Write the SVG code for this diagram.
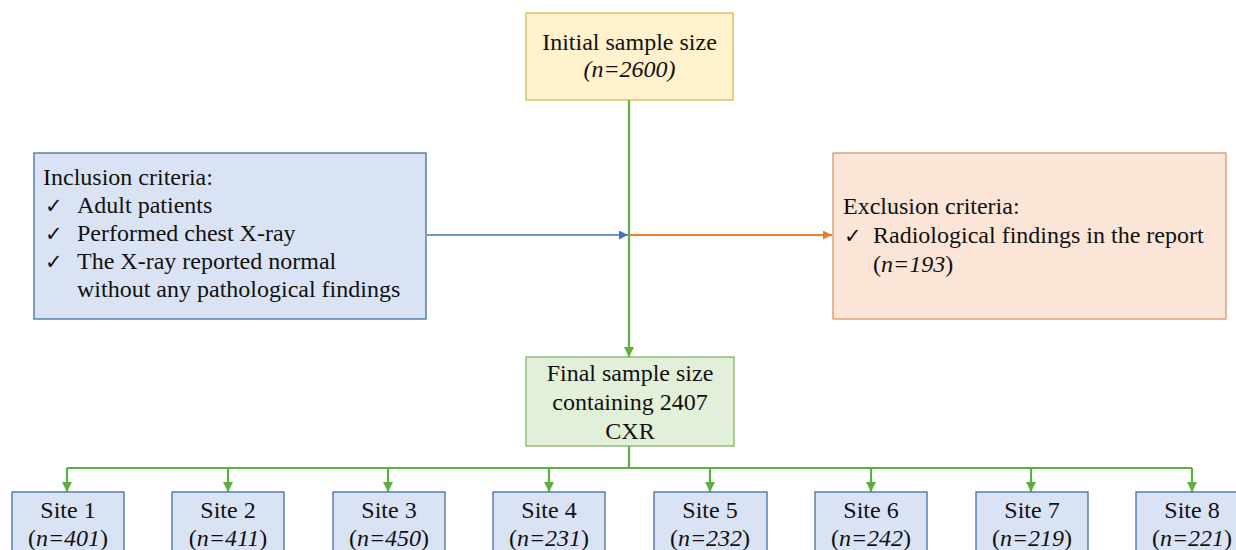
<svg xmlns="http://www.w3.org/2000/svg" width="1236" height="550" viewBox="0 0 1236 550">
<defs>
<style>
text{font-family:"Liberation Serif","Times New Roman",serif;font-size:24px;fill:#111}
.c{text-anchor:middle}
.i{font-style:italic}
.ck{font-family:"DejaVu Sans",sans-serif;font-size:21px}
.site rect{fill:#DAE3F3;stroke:#41719C;stroke-width:1.3}
.g{stroke:#5DB040;stroke-width:2.2;fill:none}
</style>
<marker id="agl" viewBox="0 0 10 10" refX="10" refY="5" markerWidth="10" markerHeight="10" orient="auto" markerUnits="userSpaceOnUse"><path d="M0,0L10,5L0,10z" fill="#5DB040"/></marker>
<marker id="ab" viewBox="0 0 10 10" refX="10" refY="5" markerWidth="9" markerHeight="9" orient="auto" markerUnits="userSpaceOnUse"><path d="M0,0L10,5L0,10z" fill="#4472C4"/></marker>
<marker id="ao" viewBox="0 0 10 10" refX="10" refY="5" markerWidth="9" markerHeight="9" orient="auto" markerUnits="userSpaceOnUse"><path d="M0,0L10,5L0,10z" fill="#ED7D31"/></marker>
</defs>
<rect width="1236" height="550" fill="#fff"/>

<g id="connectors">
<line class="g" x1="629" y1="100" x2="629" y2="357" marker-end="url(#agl)"/>
<line x1="427" y1="235" x2="628" y2="235" stroke="#4472C4" stroke-width="1.5" marker-end="url(#ab)"/>
<line x1="630" y1="235" x2="832" y2="235" stroke="#ED7D31" stroke-width="2" marker-end="url(#ao)"/>
<line class="g" x1="629" y1="446" x2="629" y2="468"/>
<line class="g" x1="67" y1="468" x2="1192" y2="468"/>
<line class="g" x1="67" y1="468" x2="67" y2="492" marker-end="url(#agl)"/>
<line class="g" x1="228" y1="468" x2="228" y2="492" marker-end="url(#agl)"/>
<line class="g" x1="388" y1="468" x2="388" y2="492" marker-end="url(#agl)"/>
<line class="g" x1="549" y1="468" x2="549" y2="492" marker-end="url(#agl)"/>
<line class="g" x1="710" y1="468" x2="710" y2="492" marker-end="url(#agl)"/>
<line class="g" x1="871" y1="468" x2="871" y2="492" marker-end="url(#agl)"/>
<line class="g" x1="1031" y1="468" x2="1031" y2="492" marker-end="url(#agl)"/>
<line class="g" x1="1192" y1="468" x2="1192" y2="492" marker-end="url(#agl)"/>
</g>

<g id="initial">
<rect x="526" y="13" width="207" height="87" fill="#FFF2CC" stroke="#D6B656" stroke-width="1.3"/>
<text class="c" x="629.5" y="50">Initial sample size</text>
<text class="c i" x="629.5" y="77">(n=2600)</text>
</g>

<g id="inclusion">
<rect x="34" y="153" width="392" height="166" fill="#DAE3F3" stroke="#41719C" stroke-width="1.3"/>
<text x="43" y="185">Inclusion criteria:</text>
<text x="45" y="213"><tspan class="ck">✓</tspan><tspan x="77">Adult patients</tspan></text>
<text x="45" y="241"><tspan class="ck">✓</tspan><tspan x="77">Performed chest X-ray</tspan></text>
<text x="45" y="269"><tspan class="ck">✓</tspan><tspan x="77">The X-ray reported normal</tspan></text>
<text x="77" y="297">without any pathological findings</text>
</g>

<g id="exclusion">
<rect x="833" y="153" width="393" height="166" fill="#FBE5D6" stroke="#D9956A" stroke-width="1.3"/>
<text x="843" y="214">Exclusion criteria:</text>
<text x="844" y="243"><tspan class="ck">✓</tspan><tspan x="873">Radiological findings in the report</tspan></text>
<text x="873" y="272">(<tspan class="i">n=193</tspan>)</text>
</g>

<g id="final">
<rect x="526" y="357" width="208" height="89" fill="#E2F0D9" stroke="#82B366" stroke-width="1.3"/>
<text class="c" x="630" y="381">Final sample size</text>
<text class="c" x="630" y="410">containing 2407</text>
<text class="c" x="630" y="439">CXR</text>
</g>

<g id="site1" class="site"><rect x="12" y="492" width="112" height="70"/><text class="c" x="68" y="518">Site 1</text><text class="c" x="68" y="546">(<tspan class="i">n=401</tspan>)</text></g>
<g id="site2" class="site"><rect x="172" y="492" width="112" height="70"/><text class="c" x="228" y="518">Site 2</text><text class="c" x="228" y="546">(<tspan class="i">n=411</tspan>)</text></g>
<g id="site3" class="site"><rect x="333" y="492" width="112" height="70"/><text class="c" x="389" y="518">Site 3</text><text class="c" x="389" y="546">(<tspan class="i">n=450</tspan>)</text></g>
<g id="site4" class="site"><rect x="493" y="492" width="112" height="70"/><text class="c" x="549" y="518">Site 4</text><text class="c" x="549" y="546">(<tspan class="i">n=231</tspan>)</text></g>
<g id="site5" class="site"><rect x="654" y="492" width="113" height="70"/><text class="c" x="710" y="518">Site 5</text><text class="c" x="710" y="546">(<tspan class="i">n=232</tspan>)</text></g>
<g id="site6" class="site"><rect x="815" y="492" width="112" height="70"/><text class="c" x="871" y="518">Site 6</text><text class="c" x="871" y="546">(<tspan class="i">n=242</tspan>)</text></g>
<g id="site7" class="site"><rect x="976" y="492" width="112" height="70"/><text class="c" x="1032" y="518">Site 7</text><text class="c" x="1032" y="546">(<tspan class="i">n=219</tspan>)</text></g>
<g id="site8" class="site"><rect x="1136" y="492" width="112" height="70"/><text class="c" x="1192" y="518">Site 8</text><text class="c" x="1192" y="546">(<tspan class="i">n=221</tspan>)</text></g>
</svg>
